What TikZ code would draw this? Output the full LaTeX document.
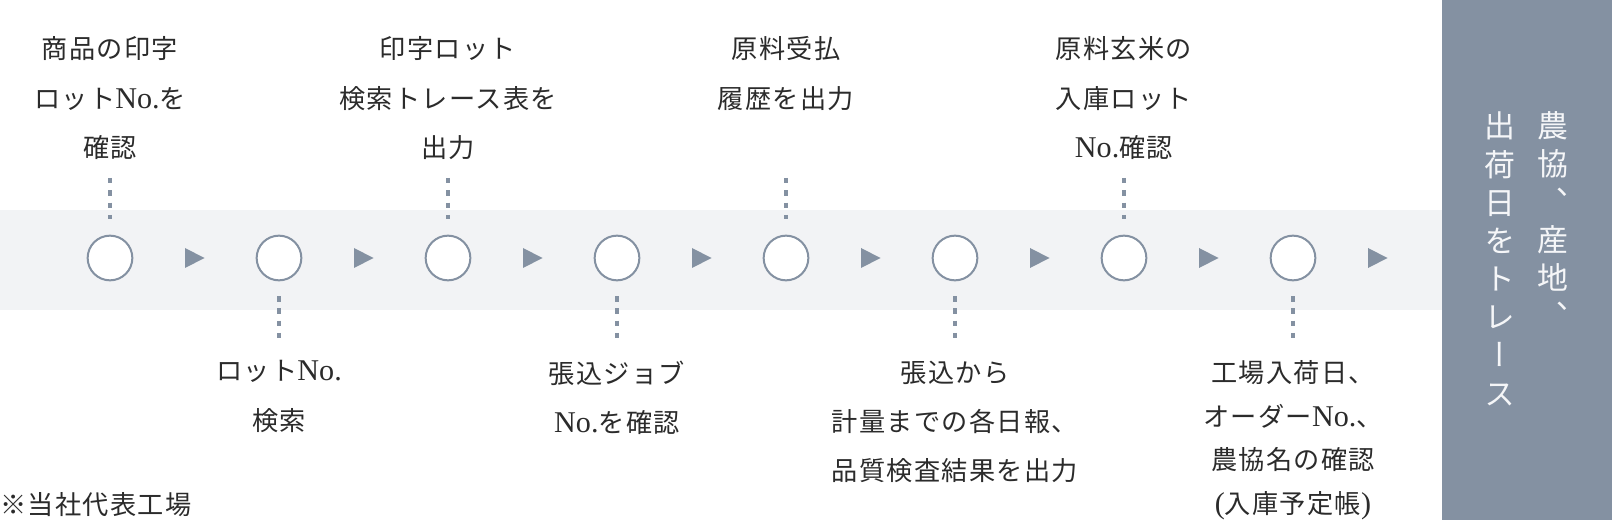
\documentclass[tikz,border=0pt]{standalone}
\usepackage{fontspec}
\newfontfamily\jp[LetterSpace=5]{Noto Sans CJK JP}
\newfontfamily\jpv[RawFeature=+vert]{Noto Sans CJK JP}
\newfontfamily\lat[Scale=1.15]{Liberation Serif}
\newcommand\NO{{\lat No.}}
\usetikzlibrary{calc}
\definecolor{slate}{HTML}{8491A2}
\definecolor{bandc}{HTML}{F2F3F5}
\definecolor{ink}{HTML}{2B2B2B}
\definecolor{vtext}{HTML}{F5F6F8}
\begin{document}
\begin{tikzpicture}[x=1bp,y=-1bp,
  stepdot/.style={circle,draw=slate,line width=2bp,fill=white,minimum size=44.7bp,inner sep=0},
  lbl/.style={align=center,inner sep=0,text=ink,font=\jp\fontsize{26.3}{49.5}\selectfont},
  lbltight/.style={align=center,inner sep=0,text=ink,font=\jp\fontsize{26.3}{43.7}\selectfont},
  vcol/.style={align=center,inner sep=0,text=vtext,font=\jpv\fontsize{31}{38.3}\selectfont},
  dotline/.style={draw=slate,line width=3.5bp,dash pattern=on 5.5bp off 6.8bp},
  tri/.style={fill=slate}]
\useasboundingbox (0,0) rectangle (1612,520);
% band and side panel
\fill[bandc] (0,210) rectangle (1442,310);
\fill[slate] (1442,0) rectangle (1612,520);
% circles
\foreach \i in {1,...,8}{
  \node[stepdot] (c\i) at ({110+169*(\i-1)},258) {};
}
\coordinate (cend) at (1462,258);
% arrows
\foreach \a/\b in {c1/c2,c2/c3,c3/c4,c4/c5,c5/c6,c6/c7,c7/c8,c8/cend}{
  \fill[tri] ($(\a)!0.5!(\b)$) ++(-9.5,-10) -- ++(19.5,10) -- ++(-19.5,10) -- cycle;
}
% dotted leaders
\foreach \i in {1,3,5,7}{
  \coordinate (u\i) at ($(c\i)+(0,-80)$);
  \draw[dotline] (u\i) -- ++(0,41.5);
}
\foreach \i in {2,4,6,8}{
  \coordinate (d\i) at ($(c\i)+(0,38)$);
  \draw[dotline] (d\i) -- ++(0,41.5);
}
% upper labels
\node[lbl,anchor=north] (t1) at ($(c1)+(0,-221.5)$) {商品の印字\\ロット\NO を\\確認};
\node[lbl,anchor=north] (t3) at ($(c3)+(0,-221.5)$) {印字ロット\\検索トレース表を\\出力};
\node[lbl,anchor=north] (t5) at ($(c5)+(0,-221.5)$) {原料受払\\履歴を出力};
\node[lbl,anchor=north] (t7) at ($(c7)+(0,-221.5)$) {原料玄米の\\入庫ロット\\\NO 確認};
% lower labels
\node[lbl,anchor=north] (b2) at ($(c2)+(0,102.5)$) {ロット\NO\\検索};
\node[lbl,anchor=north] (b4) at ($(c4)+(0,102.5)$) {張込ジョブ\\\NO を確認};
\node[lbl,anchor=north] (b6) at ($(c6)+(0,102.5)$) {張込から\\計量までの各日報、\\品質検査結果を出力};
\node[lbltight,anchor=north] (b8) at ($(c8)+(0,102.5)$) {工場入荷日、\\オーダー\NO 、\\農協名の確認\\{\lat(}入庫予定帳{\lat)}};
% footnote
\node[lbl,anchor=west] (note) at (0,505) {※当社代表工場};
% vertical text
\node[vcol,anchor=north] (v1) at (1553,111) {農\\協\\、\\産\\地\\、};
\node[vcol,anchor=north] (v2) at (1500,112) {出\\荷\\日\\を\\ト\\レ\\ー\\ス};
\end{tikzpicture}
\end{document}
